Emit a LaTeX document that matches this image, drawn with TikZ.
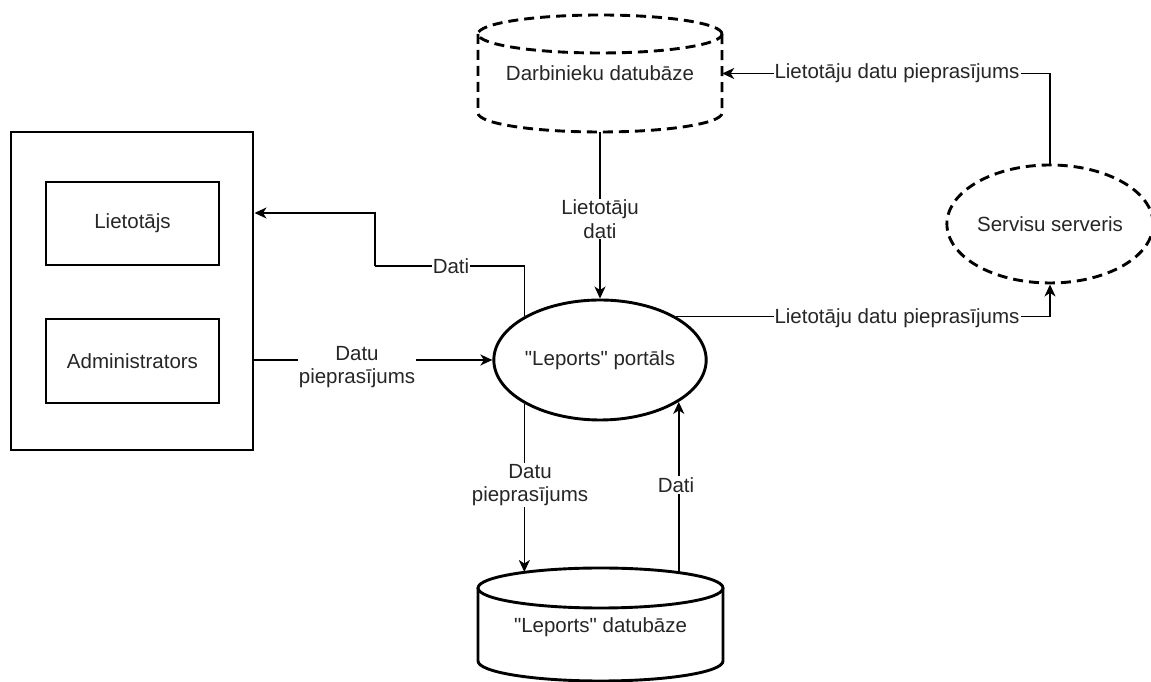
\documentclass[tikz,border=0pt]{standalone}
\usepackage{fontspec}
\defaultfontfeatures{}
\setmainfont{Liberation Sans}[Ligatures=TeXOff]
\usetikzlibrary{shapes.geometric,arrows.meta,calc}

\begin{document}
\begin{tikzpicture}[x=1pt,y=1pt,
  font=\fontsize{20.5}{23.5}\selectfont,
  txt/.style={text=black!85},
  outline/.style={line width=2.9pt},
  dashline/.style={outline,dash pattern=on 10pt off 6pt},
  boxnode/.style={draw,outline,rectangle,inner sep=0pt,txt},
  ell/.style={draw,ellipse,inner sep=0pt,txt},
  conn/.style={line width=1.6pt,-{Stealth[length=12pt,width=11pt,inset=3.5pt]}},
  plain/.style={line width=1.6pt},
  lbl/.style={fill=white,inner sep=1pt,align=center,txt}]

\useasboundingbox (0,0) rectangle (1151,682);

% actors group
\node[boxnode,minimum width=242pt,minimum height=318pt] (grp) at (132,391) {};
\node[boxnode,minimum width=173pt,minimum height=83pt] (user) at (132.5,458.5) {Lietotājs};
\node[boxnode,minimum width=173pt,minimum height=84pt] (admin) at (132.5,321) {Administrators};

% processes
\node[ell,outline,minimum width=206pt,minimum height=120pt] (portal) at (600,322) {"Leports" portāls};
\node[ell,dashline,minimum width=202pt,minimum height=118pt] (srv) at (1050,458) {Servisu serveris};

% employee database (external, dashed cylinder)
\draw[dashline] (600,648) ellipse [x radius=122pt,y radius=19pt];
\draw[dashline] (478,648) -- (478,569)
  arc[start angle=180,end angle=360,x radius=122pt,y radius=19pt] -- (722,648);
\node[txt,minimum width=244pt,minimum height=117pt,inner sep=0pt] (dd) at (600,608.5) {Darbinieku datubāze};

% portal database (cylinder)
\draw[outline] (600.5,94) ellipse [x radius=122.5pt,y radius=20pt];
\draw[outline] (478,94) -- (478,21)
  arc[start angle=180,end angle=360,x radius=122.5pt,y radius=20pt] -- (723,94);
\node[txt] (ld) at (600.5,55) {"Leports" datubāze};
\coordinate (ldA) at (527,110);
\coordinate (ldB) at (676,109.8);

% connector helpers
\coordinate (bendA) at (375,416);
\coordinate (datiIn) at (254.5,469);

% connectors
\draw[conn] (dd.south) -- (portal.north);
\draw[conn] (srv.north) |- (dd.east);
\draw[conn] (portal.30) -| (srv.south);
\draw[plain] (portal.150) |- (bendA);
\draw[conn] (bendA) |- (datiIn);
\draw[conn] (grp.east |- portal.west) -- (portal.west);
\draw[conn] (portal.210) -- (portal.210 |- ldA);
\draw[conn] (portal.-28 |- ldB) -- (portal.-28);

% connector labels
\node[lbl] (lDd) at (600,463) {Lietotāju\\dati};
\node[lbl] (lSrvDd) at (897,608.5) {Lietotāju datu pieprasījums};
\node[lbl] (lPortSrv) at (897,364.2) {Lietotāju datu pieprasījums};
\node[lbl] (lDati) at (451,416) {Dati};
\node[lbl] (lReq) at (357,315) {Datu\\pieprasījums};
\node[lbl] (lReqDb) at (530,197) {Datu\\pieprasījums};
\node[lbl] (lDatiDb) at (676,197) {Dati};

\end{tikzpicture}
\end{document}
